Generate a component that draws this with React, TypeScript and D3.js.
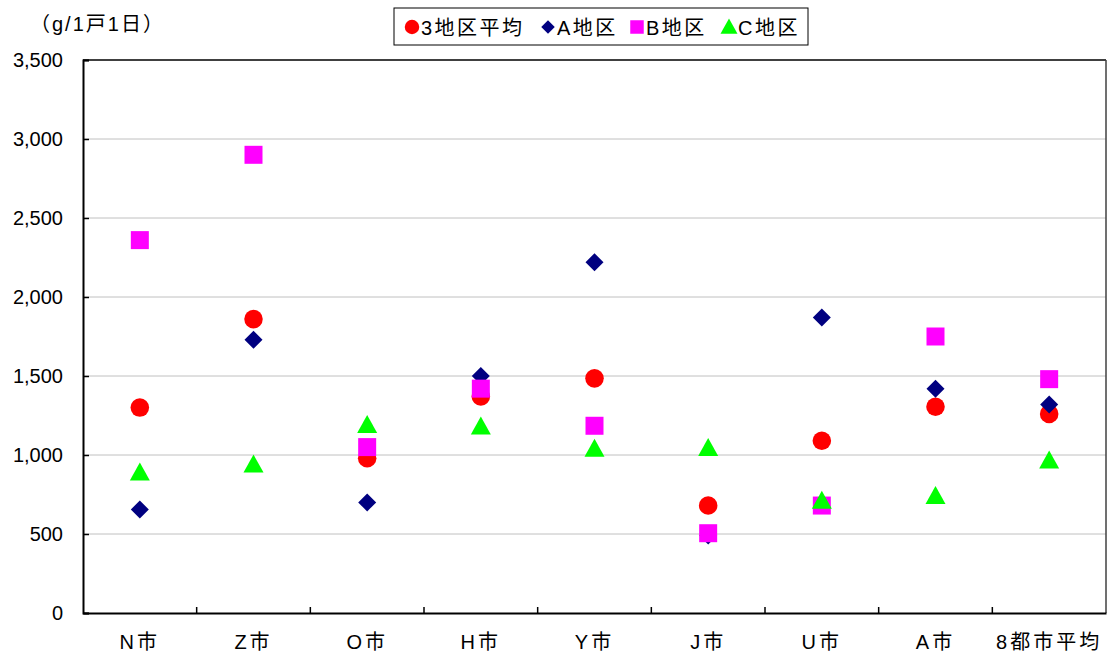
import React, { useEffect, useRef } from "react";
import * as d3 from "d3";

const cities = ["N市", "Z市", "O市", "H市", "Y市", "J市", "U市", "A市", "8都市平均"];
const avg3 = [1300, 1860, 980, 1370, 1485, 680, 1090, 1305, 1260];
const areaA = [655, 1730, 700, 1500, 2220, 490, 1870, 1420, 1320];
const areaB = [2360, 2900, 1050, 1420, 1185, 505, 680, 1750, 1480];
const areaC = [890, 940, 1190, 1180, 1040, 1045, 710, 740, 965];
const yTicks = [0, 500, 1000, 1500, 2000, 2500, 3000, 3500];

const series = [
  { name: "3地区平均", values: avg3, shape: "circle", color: "#ff0000" },
  { name: "A地区", values: areaA, shape: "diamond", color: "#000080" },
  { name: "B地区", values: areaB, shape: "square", color: "#ff00ff" },
  { name: "C地区", values: areaC, shape: "triangle", color: "#00ff00" },
];

const FONT = "'Liberation Sans', 'Noto Sans CJK JP', sans-serif";

const markerPath = (shape: string) => {
  if (shape === "circle") return d3.symbol(d3.symbolCircle, 270)()!;
  if (shape === "diamond") return "M0,-9L9,0L0,9L-9,0Z";
  if (shape === "square") return "M-9,-9H9V9H-9Z";
  return "M0,-10L10,8L-10,8Z";
};

const App: React.FC = () => {
  const ref = useRef<SVGSVGElement | null>(null);

  useEffect(() => {
    if (!ref.current) return;
    const svg = d3.select(ref.current);
    svg.selectAll("*").remove();

    const left = 83, right = 1106, top = 60, bottom = 613;
    const x = d3.scaleBand().domain(cities).range([left, right]);
    const y = d3.scaleLinear().domain([0, 3500]).range([bottom, top]);

    // grid
    svg.append("g")
      .selectAll("line")
      .data(yTicks.filter((t) => t > 0 && t < 3500))
      .enter()
      .append("line")
      .attr("x1", left)
      .attr("x2", right)
      .attr("y1", (d) => y(d))
      .attr("y2", (d) => y(d))
      .attr("stroke", "#c0c0c0")
      .attr("stroke-width", 1);

    // frame
    svg.append("line").attr("x1", left).attr("x2", right).attr("y1", top).attr("y2", top).attr("stroke", "#000").attr("stroke-width", 1.5);
    svg.append("line").attr("x1", right).attr("x2", right).attr("y1", top).attr("y2", bottom).attr("stroke", "#404040").attr("stroke-width", 1.5);

    // y axis
    const yAxis = svg.append("g").attr("transform", `translate(${left},0)`)
      .call(d3.axisLeft(y).tickValues(yTicks).tickSize(-6).tickPadding(20).tickFormat(d3.format(",")));
    yAxis.select(".domain").attr("stroke", "#000").attr("stroke-width", 2);
    yAxis.selectAll(".tick line").attr("stroke", "#000").attr("stroke-width", 1.5);
    yAxis.selectAll("text").attr("font-size", 20).attr("font-family", FONT).attr("fill", "#000");

    // x axis
    const xAxis = svg.append("g").attr("transform", `translate(0,${bottom})`)
      .call(d3.axisBottom(x).tickSize(0).tickPadding(22));
    xAxis.select(".domain").attr("stroke", "#000").attr("stroke-width", 2);
    xAxis.selectAll("text")
      .attr("font-size", 20)
      .attr("letter-spacing", 3)
      .attr("font-family", FONT)
      .attr("fill", "#000");
    svg.append("g")
      .selectAll("line")
      .data(cities.slice(1))
      .enter()
      .append("line")
      .attr("x1", (d) => x(d)!)
      .attr("x2", (d) => x(d)!)
      .attr("y1", bottom)
      .attr("y2", bottom - 6)
      .attr("stroke", "#000")
      .attr("stroke-width", 1.5);

    // markers
    series.forEach((s) => {
      svg.append("g")
        .selectAll("path")
        .data(s.values)
        .enter()
        .append("path")
        .attr("d", markerPath(s.shape))
        .attr("transform", (d, i) => `translate(${x(cities[i])! + x.bandwidth() / 2},${y(d)})`)
        .attr("fill", s.color);
    });

    // unit label
    svg.append("text")
      .attr("x", 30)
      .attr("y", 31)
      .attr("font-size", 20)
      .attr("letter-spacing", 2)
      .attr("font-family", FONT)
      .text("（g/1戸1日）");

    // legend
    const lg = svg.append("g");
    lg.append("rect").attr("x", 394).attr("y", 8).attr("width", 414).attr("height", 37).attr("fill", "#fff").attr("stroke", "#000").attr("stroke-width", 1);
    const legendX = [412, 548, 637, 729];
    series.forEach((s, i) => {
      lg.append("path")
        .attr("d", markerPath(s.shape))
        .attr("transform", `translate(${legendX[i]},27) scale(${s.shape === "circle" ? 0.78 : s.shape === "triangle" ? 0.85 : 0.75})`)
        .attr("fill", s.color);
      lg.append("text")
        .attr("x", legendX[i] + 9)
        .attr("y", 35)
        .attr("font-size", 20)
        .attr("letter-spacing", 2.5)
        .attr("font-family", FONT)
        .text(s.name);
    });
  }, []);

  return (
    <svg
      ref={ref}
      width={1113}
      height={661}
      style={{ position: "absolute", left: 0, top: 0, background: "#fff" }}
    />
  );
};

export default App;
